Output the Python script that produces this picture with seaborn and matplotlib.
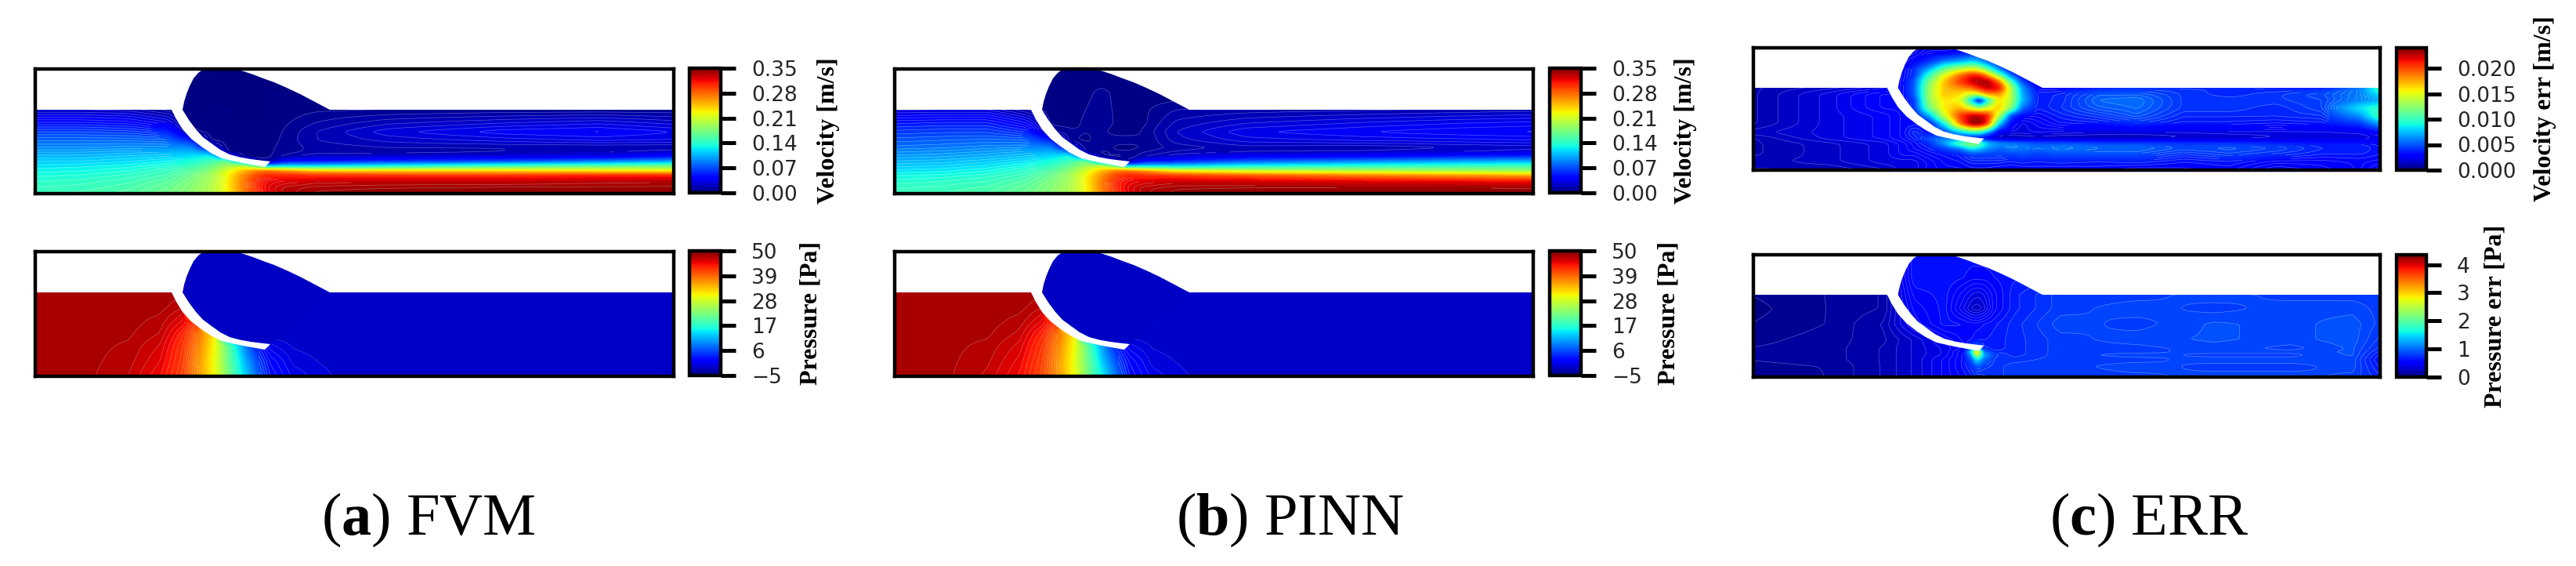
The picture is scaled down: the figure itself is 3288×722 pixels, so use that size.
import numpy as np
import matplotlib
matplotlib.use("Agg")
import matplotlib.pyplot as plt
from matplotlib.colors import Normalize
from matplotlib.cm import ScalarMappable
from matplotlib.patches import Polygon
import seaborn as sns

sns.set_theme(style="white")
plt.rcParams["font.family"] = ["DejaVu Sans"]
plt.rcParams["mathtext.fontset"] = "custom"
plt.rcParams["mathtext.rm"] = "Liberation Serif"
plt.rcParams["mathtext.bf"] = "Liberation Serif:bold"

W, H = 3288, 722
JET = matplotlib.colormaps["jet"]

# valve geometry
FLAP_LOWER = [(175,108),(181,96),(189,83),(200,71),(213,61),(225,53),(239,46),(252,43),(266,40),(280,37.5),(294,35)]
FLAP_UPPER = [(189,108),(197,95),(206,83),(215,73),(226,65),(237,57),(249,51),(262,47.5),(276,45),(288,43.5),(301,42)]
DOME_LEFT = [(189,108),(190,113),(191,118),(192.5,123),(194,128),(198,138),(203,148),(209,155),(216,160),(222,163),(230,165)]
DOME_RIGHT = [(250,165),(256,160),(267,157),(279,153),(292,148),(306,143),(322,136),(339,128),(358,118),(377,108)]
SURFACE_Y = 108

# velocity tables
VEL_X = [0,60,120,170,200,225,245,265,285,300,320,360,450,600,720,818]
VEL_Y = [0,8,16,24,30,36,42,48,54,60,70,80,92,108,130,165]
VEL_FVM = [
 [.150,.152,.158,.170,.182,.196,.222,.262,.300,.318,.332,.342,.345,.345,.345,.345],
 [.146,.148,.154,.166,.180,.196,.225,.268,.305,.322,.332,.338,.340,.342,.342,.342],
 [.140,.143,.149,.160,.176,.194,.225,.268,.305,.318,.322,.328,.330,.330,.333,.335],
 [.134,.136,.142,.152,.168,.190,.222,.262,.295,.305,.305,.302,.302,.302,.305,.305],
 [.128,.130,.135,.146,.160,.180,.212,.245,.270,.275,.262,.240,.235,.235,.230,.225],
 [.122,.124,.128,.136,.148,.166,.190,.205,.160,.110,.120,.120,.130,.150,.160,.170],
 [.115,.116,.120,.126,.134,.150,.170,.080,.010,.010,.045,.050,.060,.070,.085,.100],
 [.108,.108,.112,.116,.122,.130,.060,.005,.003,.004,.012,.022,.025,.030,.035,.050],
 [.100,.100,.103,.105,.108,.090,.005,.002,.002,.004,.008,.012,.012,.015,.018,.025],
 [.090,.090,.092,.092,.090,.030,.003,.002,.002,.004,.007,.012,.015,.015,.015,.015],
 [.078,.078,.078,.075,.050,.004,.002,.001,.001,.002,.007,.015,.022,.028,.032,.030],
 [.065,.065,.062,.055,.008,.002,.001,.001,.001,.001,.006,.015,.028,.038,.041,.035],
 [.045,.045,.042,.030,.002,.001,.000,.000,.000,.000,.004,.010,.018,.024,.028,.022],
 [.020,.020,.018,.008,.000,.000,.000,.000,.000,.000,.002,.004,.005,.006,.006,.006],
 [.000,.000,.000,.000,.000,.000,.000,.000,.000,.000,.000,.000,.000,.000,.000,.000],
 [.000,.000,.000,.000,.000,.000,.000,.000,.000,.000,.000,.000,.000,.000,.000,.000],
]
VEL_PINN = [
 [.148,.150,.156,.168,.180,.196,.222,.264,.302,.320,.334,.343,.345,.345,.345,.345],
 [.145,.147,.152,.164,.178,.195,.225,.270,.306,.322,.333,.339,.341,.342,.342,.340],
 [.138,.141,.146,.158,.174,.193,.226,.270,.306,.318,.322,.328,.326,.322,.318,.315],
 [.130,.132,.138,.149,.166,.190,.224,.264,.296,.305,.302,.296,.285,.270,.260,.255],
 [.122,.124,.130,.142,.158,.180,.212,.246,.270,.274,.258,.225,.205,.195,.190,.185],
 [.114,.116,.122,.132,.145,.165,.190,.205,.160,.110,.120,.115,.130,.140,.145,.150],
 [.106,.108,.114,.122,.132,.150,.170,.080,.012,.012,.045,.055,.075,.090,.100,.105],
 [.098,.100,.105,.112,.120,.130,.060,.006,.004,.006,.015,.025,.038,.045,.055,.060],
 [.090,.092,.097,.102,.106,.090,.006,.004,.006,.006,.010,.016,.020,.022,.025,.030],
 [.082,.084,.088,.090,.088,.030,.006,.008,.004,.003,.006,.012,.018,.016,.020,.022],
 [.072,.074,.076,.074,.050,.006,.004,.007,.007,.008,.005,.018,.028,.032,.034,.036],
 [.062,.064,.064,.054,.010,.006,.005,.006,.003,.002,.006,.020,.034,.040,.044,.046],
 [.048,.050,.050,.034,.003,.003,.006,.008,.004,.002,.004,.016,.024,.030,.034,.036],
 [.024,.025,.025,.010,.002,.003,.005,.007,.004,.003,.004,.010,.012,.014,.016,.018],
 [.000,.000,.000,.000,.002,.003,.004,.006,.004,.003,.002,.000,.000,.000,.000,.000],
 [.000,.000,.000,.000,.001,.001,.001,.001,.001,.001,.000,.000,.000,.000,.000,.000],
]

# pressure tables
PRE_X = [0,60,120,160,190,210,230,250,270,285,300,330,390,818]
PRE_Y = [0,20,40,55,70,90,108,165]
PRE_FVM = [
 [48,48,46.8,44.5,41,36,30,21,13,7,3,.3,-1.3,-1.7],
 [48,48,47.2,45.3,41.5,36,29.5,20,11,5.5,2,-.5,-1.6,-1.7],
 [48,48,47.5,46,42,37,30,19,8,3,0,-1.2,-1.7,-1.7],
 [48,48,47.8,46.8,43,38,31,-1.7,-1.7,-1.7,-1.7,-1.7,-1.7,-1.7],
 [48,48,48,47.3,45,41,-1.7,-1.7,-1.7,-1.7,-1.7,-1.7,-1.7,-1.7],
 [48,48,48,48,47,-1.7,-1.7,-1.7,-1.7,-1.7,-1.7,-1.7,-1.7,-1.7],
 [48,48,48,48,48,-1.7,-1.7,-1.7,-1.7,-1.7,-1.7,-1.7,-1.7,-1.7],
 [48,48,48,48,48,-1.7,-1.7,-1.7,-1.7,-1.7,-1.7,-1.7,-1.7,-1.7],
]
PRE_PINN = [
 [48,48,46.6,44.3,40.8,36,30,21,13.5,7.5,3,.2,-1.4,-1.7],
 [48,48,47,45,41.3,36,29.5,20,11,5.5,2,-.6,-1.6,-1.7],
 [48,48,47.4,45.8,42,37,30,19,8,3,0,-1.2,-1.7,-1.7],
 [48,48,47.8,46.6,43,38,31,-1.7,-1.7,-1.7,-1.7,-1.7,-1.7,-1.7],
 [48,48,48,47.3,45,41,-1.7,-1.7,-1.7,-1.7,-1.7,-1.7,-1.7,-1.7],
 [48,48,48,48,47,-1.7,-1.7,-1.7,-1.7,-1.7,-1.7,-1.7,-1.7,-1.7],
 [48,48,48,48,48,-1.7,-1.7,-1.7,-1.7,-1.7,-1.7,-1.7,-1.7,-1.7],
 [48,48,48,48,48,-1.7,-1.7,-1.7,-1.7,-1.7,-1.7,-1.7,-1.7,-1.7],
]
DOME_PRESSURE = -1.7

# error tables
VERR_X = [0,100,170,195,210,230,250,270,285,295,305,320,335,350,370,400,450,500,560,620,680,740,790,818]
VERR_Y = [0,12,22,30,36,42,50,62,72,82,92,100,108,116,124,132,142,152,165]
VEL_ERR = [
 [.0010,.0010,.0015,.0020,.0020,.0025,.0028,.0028,.0030,.0030,.0030,.0028,.0028,.0028,.0030,.0028,.0030,.0026,.0028,.0030,.0020,.0025,.0030,.0020],
 [.0012,.0015,.0020,.0020,.0020,.0025,.0030,.0032,.0036,.0036,.0036,.0036,.0034,.0036,.0034,.0036,.0034,.0036,.0032,.0034,.0028,.0028,.0030,.0028],
 [.0010,.0015,.0020,.0025,.0025,.0030,.0033,.0036,.0045,.0045,.0045,.0045,.0045,.0048,.0045,.0048,.0048,.0048,.0040,.0045,.0040,.0035,.0035,.0032],
 [.0010,.0015,.0020,.0025,.0030,.0035,.0045,.0060,.0090,.0080,.0065,.0055,.0060,.0060,.0055,.0060,.0055,.0055,.0048,.0050,.0046,.0038,.0038,.0032],
 [.0010,.0015,.0020,.0025,.0030,.0040,.0070,.0120,.0140,.0120,.0080,.0065,.0060,.0055,.0050,.0050,.0046,.0046,.0042,.0042,.0038,.0034,.0034,.0030],
 [.0010,.0020,.0025,.0030,.0035,.0050,.0060,.0040,.0020,.0020,.0020,.0012,.0012,.0012,.0012,.0012,.0012,.0012,.0015,.0015,.0018,.0018,.0018,.0022],
 [.0015,.0020,.0025,.0030,.0040,.0030,.0040,.0070,.0090,.0090,.0060,.0020,.0020,.0020,.0022,.0020,.0018,.0018,.0018,.0020,.0020,.0020,.0022,.0028],
 [.0010,.0020,.0025,.0030,.0030,.0032,.0090,.0190,.0238,.0240,.0210,.0080,.0030,.0020,.0025,.0032,.0034,.0040,.0034,.0034,.0032,.0034,.0042,.0070],
 [.0010,.0020,.0025,.0030,.0030,.0070,.0145,.0205,.0225,.0225,.0215,.0140,.0045,.0030,.0030,.0036,.0042,.0050,.0038,.0038,.0038,.0040,.0065,.0110],
 [.0010,.0020,.0030,.0030,.0040,.0115,.0160,.0170,.0140,.0120,.0140,.0170,.0125,.0055,.0035,.0040,.0050,.0054,.0042,.0042,.0038,.0045,.0085,.0100],
 [.0010,.0020,.0030,.0030,.0040,.0130,.0160,.0150,.0070,.0010,.0080,.0160,.0140,.0075,.0036,.0038,.0054,.0056,.0042,.0042,.0042,.0045,.0060,.0070],
 [.0010,.0020,.0030,.0030,.0050,.0130,.0170,.0160,.0140,.0150,.0180,.0180,.0140,.0070,.0036,.0038,.0050,.0050,.0042,.0038,.0042,.0048,.0060,.0085],
 [.0010,.0015,.0020,.0030,.0050,.0130,.0170,.0180,.0190,.0210,.0225,.0220,.0140,.0065,.0030,.0030,.0036,.0040,.0040,.0040,.0036,.0036,.0060,.0110],
 [.0010,.0010,.0020,.0030,.0050,.0120,.0170,.0205,.0225,.0235,.0235,.0190,.0105,.0045,.0020,.0020,.0020,.0020,.0020,.0020,.0020,.0020,.0020,.0020],
 [.0010,.0010,.0020,.0030,.0040,.0100,.0150,.0190,.0215,.0210,.0180,.0120,.0055,.0030,.0020,.0020,.0020,.0020,.0020,.0020,.0020,.0020,.0020,.0020],
 [.0010,.0010,.0020,.0030,.0040,.0070,.0115,.0140,.0150,.0140,.0110,.0060,.0030,.0020,.0020,.0020,.0020,.0020,.0020,.0020,.0020,.0020,.0020,.0020],
 [.0010,.0010,.0020,.0020,.0030,.0040,.0060,.0070,.0080,.0070,.0050,.0030,.0020,.0020,.0020,.0020,.0020,.0020,.0020,.0020,.0020,.0020,.0020,.0020],
 [.0010,.0010,.0020,.0020,.0020,.0030,.0030,.0035,.0040,.0040,.0040,.0035,.0030,.0020,.0020,.0020,.0020,.0020,.0020,.0020,.0020,.0020,.0020,.0020],
 [.0010,.0010,.0020,.0020,.0020,.0020,.0020,.0020,.0020,.0020,.0020,.0020,.0020,.0020,.0020,.0020,.0020,.0020,.0020,.0020,.0020,.0020,.0020,.0020],
]
PERR_X = [0,100,170,210,250,275,285,292,300,315,340,400,500,600,700,780,818]
PERR_Y = [0,15,24,30,34,38,50,70,90,108,130,165]
PRE_ERR = [
 [.05,.10,.20,.30,.45,.55,.60,.65,.70,.75,.80,.80,.80,.85,.85,.80,.70],
 [.08,.10,.20,.30,.45,.60,.70,.90,.80,.75,.80,.80,.85,.80,.80,.85,.60],
 [.10,.12,.20,.30,.45,.60,.90,1.6,1.0,.75,.75,.80,.80,.85,.85,.85,.55],
 [.10,.12,.20,.30,.40,.60,1.2,2.6,1.3,.80,.70,.80,.85,.80,.80,.88,.60],
 [.10,.12,.20,.30,.40,.60,1.6,3.4,1.0,.70,.70,.80,.80,.85,.85,.88,.65],
 [.10,.12,.20,.30,.40,.50,.80,1.0,.70,.65,.70,.80,.80,.85,.80,.88,.70],
 [.08,.12,.18,.30,.45,.55,.58,.62,.62,.65,.70,.80,.85,.88,.85,.90,.75],
 [.05,.10,.20,.45,.60,.58,.55,.55,.58,.62,.70,.85,.80,.88,.85,.90,.80],
 [.03,.10,.15,.50,.60,.38,.28,.25,.30,.52,.66,.80,.85,.80,.85,.85,.80],
 [.05,.10,.15,.55,.60,.45,.38,.35,.38,.52,.66,.80,.80,.85,.80,.80,.80],
 [.10,.10,.15,.62,.62,.58,.55,.55,.55,.58,.62,.65,.65,.65,.65,.65,.65],
 [.10,.10,.15,.62,.62,.62,.62,.62,.62,.62,.62,.62,.62,.62,.62,.62,.62],
]

V_TICKS = [0.00,0.07,0.14,0.21,0.28,0.35]
P_TICKS = [-5,6,17,28,39,50]
VE_TICKS = [0.000,0.005,0.010,0.015,0.020]
PE_TICKS = [0,1,2,3,4]

CAPTIONS = ["a","b","c"]
CAPTION_NAMES = ["FVM","PINN","ERR"]

fig = plt.figure(figsize=(W/100, H/100), dpi=100, facecolor="white")

def rect(l, t, r, b):
    return [l/W, 1-b/H, (r-l)/W, (b-t)/H]

SP = 3.2

def box_smooth(a, size, axis):
    k = np.ones(size)/size
    pad = [(0,0),(0,0)]; pad[axis] = (size, size)
    b = np.pad(a, pad, mode="edge")
    b = np.apply_along_axis(lambda v: np.convolve(v, k, mode="same"), axis, b)
    return b[size:-size, :] if axis == 0 else b[:, size:-size]

def sample(xs, ys, z, kx, ky):
    # the picture-read table rendered on a pixel raster, softened like a shaded field
    gx = np.arange(0.0, 819.0); gy = np.arange(0.0, 166.0)
    z = np.asarray(z, dtype=float)
    a = np.array([np.interp(gx, xs, row) for row in z])
    a = np.array([np.interp(gy, ys, a[:,j]) for j in range(a.shape[1])]).T
    for _ in range(2):
        a = box_smooth(a, kx, 1)
        a = box_smooth(a, ky, 0)
    return gx, gy, a

def field(box, cbox, xs, ys, z, vmin, vmax, ticks, fmt, label, lab_x, lab_fs=23, nlev=70, dome=None, kx=9, ky=3, minspace=2.6):
    ax = fig.add_axes(rect(*box))
    gx, gy, a = sample(xs, ys, z, kx, ky)
    levels = np.linspace(vmin, vmax, nlev+1)
    ax.contourf(gx, gy, a, levels=levels, cmap=JET, vmin=vmin, vmax=vmax, extend="both", antialiased=False)
    dy, dx = np.gradient(a)
    slope = np.hypot(dx, dy)
    thin = np.where(slope*minspace > (levels[1]-levels[0]), np.nan, a)
    ax.contour(gx, gy, thin, levels=levels[1:], colors="white", linewidths=0.5, alpha=0.33)
    norm = Normalize(vmin, vmax)
    if dome is not None:
        ax.add_patch(Polygon(FLAP_UPPER[::-1] + DOME_LEFT + DOME_RIGHT, closed=True, fc=JET(norm(dome)), ec="none", zorder=3))
    # white zones above the channel and the flap gap
    ax.add_patch(Polygon([(-5,SURFACE_Y)] + DOME_LEFT + [(-5,170)], closed=True, fc="white", ec="none", zorder=4))
    ax.add_patch(Polygon(DOME_RIGHT + [(830,SURFACE_Y),(830,170),(250,170)], closed=True, fc="white", ec="none", zorder=4))
    ax.add_patch(Polygon(FLAP_LOWER + FLAP_UPPER[::-1], closed=True, fc="white", ec="none", zorder=4))
    ax.set_xlim(1, 816)
    ax.set_ylim(1, 160)
    ax.set_xticks([]); ax.set_yticks([])
    for s in ax.spines.values():
        s.set_visible(True); s.set_linewidth(SP); s.set_color("black"); s.set_zorder(6)
    cax = fig.add_axes(rect(*cbox))
    cb = fig.colorbar(ScalarMappable(norm=norm, cmap=JET), cax=cax, ticks=ticks)
    cb.ax.tick_params(length=14, width=3.6, pad=14, labelsize=19, color="black", right=True, which="major")
    cb.ax.set_yticklabels([fmt(t) for t in ticks])
    cb.outline.set_linewidth(SP)
    cb.outline.set_edgecolor("black")
    cy = (cbox[1]+cbox[3])/2
    fig.text(lab_x/W, 1-cy/H, label, rotation=90, ha="center", va="center", family="Liberation Serif", weight="bold", fontsize=lab_fs, color="black")
    return ax

f2 = lambda t: f"{t:.2f}"
f3 = lambda t: f"{t:.3f}"
fi = lambda t: f"{t:d}".replace("-", "\u2212")

field((45,88,860,247),(880,87,920,246),VEL_X,VEL_Y,VEL_FVM,0,.35,V_TICKS,f2,"Velocity [m/s]",1057)
field((45,321,860,480),(880,320,920,479),PRE_X,PRE_Y,PRE_FVM,-5,50,P_TICKS,fi,"Pressure [Pa]",1035,dome=DOME_PRESSURE,kx=5)
field((1142,88,1957,247),(1978,87,2018,246),VEL_X,VEL_Y,VEL_PINN,0,.35,V_TICKS,f2,"Velocity [m/s]",2151)
field((1142,321,1957,480),(1978,320,2018,479),PRE_X,PRE_Y,PRE_PINN,-5,50,P_TICKS,fi,"Pressure [Pa]",2130,dome=DOME_PRESSURE,kx=5)
field((2238,61,3038,217),(3059,61,3097,217),VERR_X,VERR_Y,VEL_ERR,0,.024,VE_TICKS,f3,"Velocity err [m/s]",3248,nlev=90,kx=7,ky=5)
field((2238,325,3038,481),(3059,325,3097,481),PERR_X,PERR_Y,PRE_ERR,0,4.35,PE_TICKS,fi,"Pressure err [Pa]",3185,nlev=90,kx=5,ky=3)

for letter, name, cx in zip(CAPTIONS, CAPTION_NAMES, [547,1646,2743]):
    fig.text(cx/W, 1-682/H, rf"($\mathbf{{{letter}}}$) {name}", ha="center", va="baseline",
             family="Liberation Serif", fontsize=55, color="black")

fig.savefig("out.png", dpi=100, facecolor="white")
